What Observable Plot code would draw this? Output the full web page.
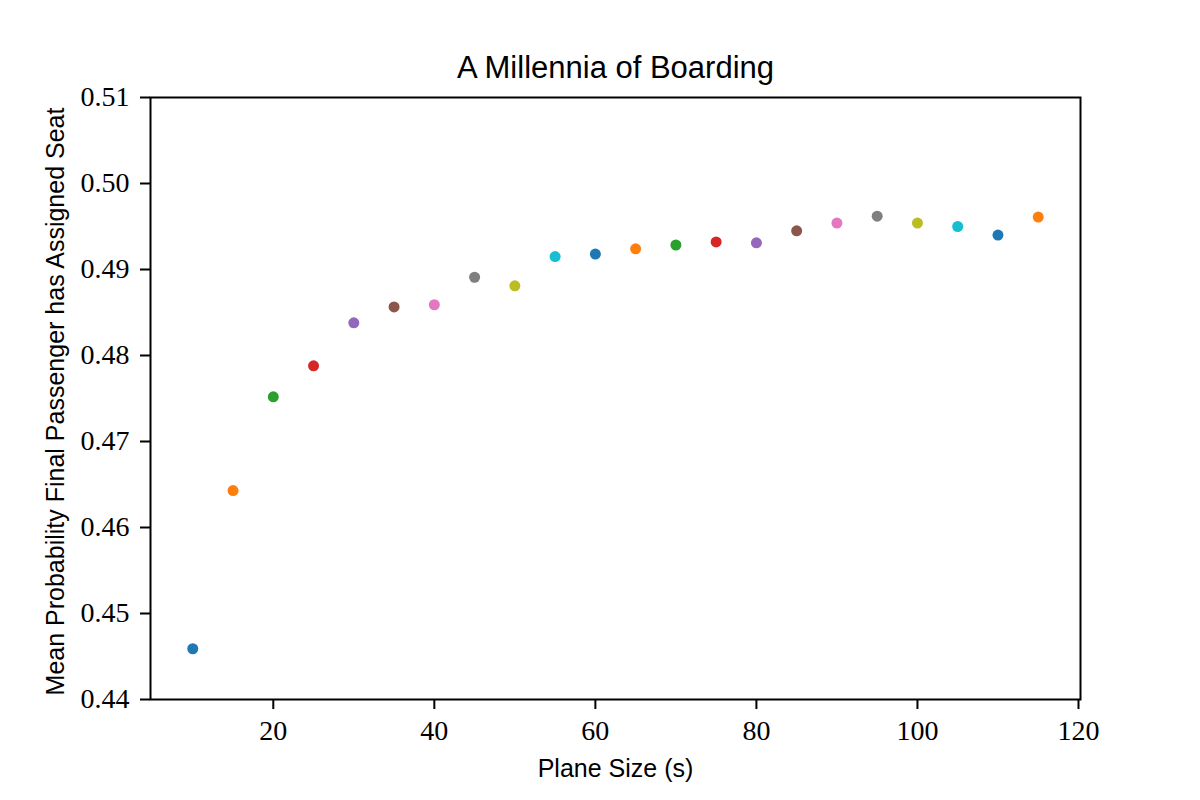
<!DOCTYPE html>
<html>
<head>
<meta charset="utf-8">
<script src="https://cdn.jsdelivr.net/npm/d3@7"></script>
<script src="https://cdn.jsdelivr.net/npm/@observablehq/plot@0.6"></script>
<style>
  html, body { margin: 0; padding: 0; background: #fff; }
  #chart svg { display: block; }
</style>
</head>
<body>
<div id="chart"></div>
<script>
const planeSizes = [10, 15, 20, 25, 30, 35, 40, 45, 50, 55, 60, 65, 70, 75, 80, 85, 90, 95, 100, 105, 110, 115];
const meanProb = [0.4459, 0.4643, 0.4752, 0.4788, 0.4838, 0.48565, 0.4859, 0.4891, 0.4881, 0.4915, 0.4918, 0.4924, 0.49285, 0.4932, 0.4931, 0.4945, 0.4954, 0.4962, 0.4954, 0.4950, 0.4940, 0.4961];
const cycleColors = ["#1f77b4", "#ff7f0e", "#2ca02c", "#d62728", "#9467bd", "#8c564b", "#e377c2", "#7f7f7f", "#bcbd22", "#17becf"];
const xTicks = [20, 40, 60, 80, 100, 120];
const yTicks = [0.44, 0.45, 0.46, 0.47, 0.48, 0.49, 0.50, 0.51];
const titleText = "A Millennia of Boarding";
const xLabel = "Plane Size (s)";
const yLabel = "Mean Probability Final Passenger has Assigned Seat";

const data = planeSizes.map((s, i) => ({size: s, prob: meanProb[i], cyc: i % cycleColors.length}));

const serif = "'Liberation Serif', 'Times New Roman', serif";
const sans = "'Liberation Sans', Arial, sans-serif";

const chart = Plot.plot({
  width: 1200,
  height: 800,
  marginLeft: 150,
  marginRight: 120,
  marginTop: 97,
  marginBottom: 101,
  style: {background: "#fff", overflow: "visible"},
  x: {domain: [4.75, 120.25]},
  y: {domain: [0.44, 0.51]},
  color: {type: "ordinal", domain: d3.range(cycleColors.length), range: cycleColors},
  marks: [
    Plot.axisX({ticks: xTicks, tickSize: 10, tickPadding: 11, fontSize: 28, fontFamily: serif, label: null, stroke: "#000", strokeWidth: 2, color: "#000"}),
    Plot.axisY({ticks: yTicks, tickSize: 10, tickPadding: 11, tickFormat: d3.format(".2f"), fontSize: 28, fontFamily: serif, label: null, stroke: "#000", strokeWidth: 2, color: "#000"}),
    Plot.dot(data, {x: "size", y: "prob", fill: "cyc", r: 5.5, stroke: null}),
    Plot.frame({stroke: "#000", strokeWidth: 2}),
    Plot.text([titleText], {frameAnchor: "top", lineAnchor: "bottom", dy: -20, fontSize: 31, fontFamily: sans, fill: "#000"}),
    Plot.text([xLabel], {frameAnchor: "bottom", lineAnchor: "bottom", dy: 77, fontSize: 25, fontFamily: sans, fill: "#000"}),
    Plot.text([yLabel], {frameAnchor: "left", textAnchor: "middle", lineAnchor: "bottom", rotate: -90, dx: -87, dy: 3, fontSize: 25, fontFamily: sans, fill: "#000"})
  ]
});
document.getElementById("chart").appendChild(chart);
</script>
</body>
</html>
